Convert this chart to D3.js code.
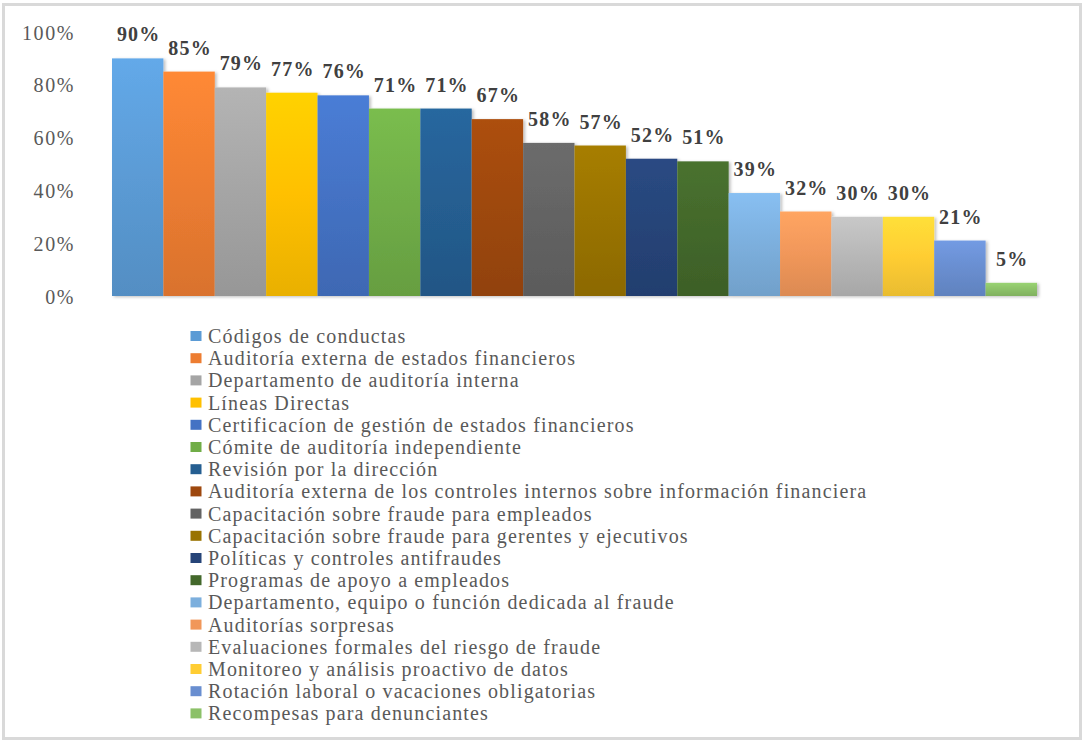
<!DOCTYPE html>
<html>
<head>
<meta charset="utf-8">
<script src="https://cdn.jsdelivr.net/npm/d3@7"></script>
<style>
  html, body { margin: 0; padding: 0; background: #fff; }
  svg { display: block; }
  .serif { font-family: "Liberation Serif", "Times New Roman", Times, "DejaVu Serif", serif; }
</style>
</head>
<body>
<svg id="chart" width="1083" height="742"></svg>
<script>
// Anti-fraud controls and the share of organisations using each one
const categories = [
  "Códigos de conductas",
  "Auditoría externa de estados financieros",
  "Departamento de auditoría interna",
  "Líneas Directas",
  "Certificacíon de gestión de estados financieros",
  "Cómite de auditoría independiente",
  "Revisión por la dirección",
  "Auditoría externa de los controles internos sobre información financiera",
  "Capacitación sobre fraude para empleados",
  "Capacitación sobre fraude para gerentes y ejecutivos",
  "Políticas y controles antifraudes",
  "Programas de apoyo a empleados",
  "Departamento, equipo o función dedicada al fraude",
  "Auditorías sorpresas",
  "Evaluaciones formales del riesgo de fraude",
  "Monitoreo y análisis proactivo de datos",
  "Rotación laboral o vacaciones obligatorias",
  "Recompesas para denunciantes"
];
const values = [0.90, 0.85, 0.79, 0.77, 0.76, 0.71, 0.71, 0.67, 0.58, 0.57, 0.52, 0.51, 0.39, 0.32, 0.30, 0.30, 0.21, 0.05];
const colors = [
  "#5B9BD5", "#ED7D31", "#A5A5A5", "#FFC000", "#4472C4", "#70AD47",
  "#255E91", "#9E480E", "#636363", "#997300", "#264478", "#43682B",
  "#7CAFDD", "#F1975A", "#B7B7B7", "#FFCD33", "#698ED0", "#8CC168"
];
const yTicks = [0, 0.2, 0.4, 0.6, 0.8, 1.0];

const svg = d3.select("#chart");
const W = 1083, H = 742;

// outer frame
svg.append("rect")
  .attr("x", 3.5).attr("y", 4.5)
  .attr("width", W - 6).attr("height", H - 8)
  .attr("fill", "#fff").attr("stroke", "#d9d9d9").attr("stroke-width", 3);

const x = d3.scaleBand().domain(categories).range([112, 1037]).padding(0);
const y = d3.scaleLinear().domain([0, 1]).range([296, 32]);

const defs = svg.append("defs");
categories.forEach((c, i) => {
  const base = d3.color(colors[i]);
  const g = defs.append("linearGradient")
    .attr("id", "grad" + i)
    .attr("x1", 0).attr("y1", 0).attr("x2", 0).attr("y2", 1);
  g.append("stop").attr("offset", "0%").attr("stop-color", base.brighter(0.25).formatHex());
  g.append("stop").attr("offset", "50%").attr("stop-color", base.formatHex());
  g.append("stop").attr("offset", "100%").attr("stop-color", base.darker(0.25).formatHex());
});
const shadow = defs.append("filter").attr("id", "shadow")
  .attr("x", "-10%").attr("y", "-10%").attr("width", "130%").attr("height", "130%");
shadow.append("feDropShadow")
  .attr("dx", 2).attr("dy", 1).attr("stdDeviation", 1.5)
  .attr("flood-color", "#000").attr("flood-opacity", 0.25);

// y axis labels
const yAxis = d3.axisLeft(y).tickValues(yTicks).tickFormat(d3.format(".0%")).tickSize(0).tickPadding(0);
const yg = svg.append("g")
  .attr("transform", "translate(75,0)")
  .call(yAxis)
  .attr("font-family", null)
  .attr("font-size", null);
yg.select(".domain").remove();
yg.selectAll("text")
  .attr("class", "serif")
  .attr("font-size", 20)
  .attr("letter-spacing", 1.6)
  .attr("fill", "#595959")
  .attr("dy", "0.35em");

// bars
svg.append("g").attr("filter", "url(#shadow)")
  .selectAll("rect")
  .data(values)
  .join("rect")
  .attr("x", (d, i) => x(categories[i]))
  .attr("y", d => y(d))
  .attr("width", x.bandwidth())
  .attr("height", d => y(0) - y(d))
  .attr("fill", (d, i) => `url(#grad${i})`);

// value labels
svg.append("g")
  .selectAll("text")
  .data(values)
  .join("text")
  .attr("class", "serif")
  .attr("x", (d, i) => x(categories[i]) + x.bandwidth() / 2 + 1)
  .attr("y", d => y(d) - 17)
  .attr("text-anchor", "middle")
  .attr("font-weight", "bold")
  .attr("font-size", 20)
  .attr("letter-spacing", 1.2)
  .attr("fill", "#404040")
  .text(d => d3.format(".0%")(d));

// legend
const rowH = 22.2;
const legend = svg.append("g").attr("transform", "translate(190,336)");
const item = legend.selectAll("g")
  .data(categories)
  .join("g")
  .attr("transform", (d, i) => `translate(0,${i * rowH})`);
item.append("rect")
  .attr("x", 0.5).attr("y", -5)
  .attr("width", 11).attr("height", 10)
  .attr("fill", (d, i) => colors[i]);
item.append("text")
  .attr("class", "serif")
  .attr("x", 18)
  .attr("dy", "0.35em")
  .attr("font-size", 20)
  .attr("letter-spacing", 1.15)
  .attr("fill", "#595959")
  .text(d => d);
</script>
</body>
</html>
